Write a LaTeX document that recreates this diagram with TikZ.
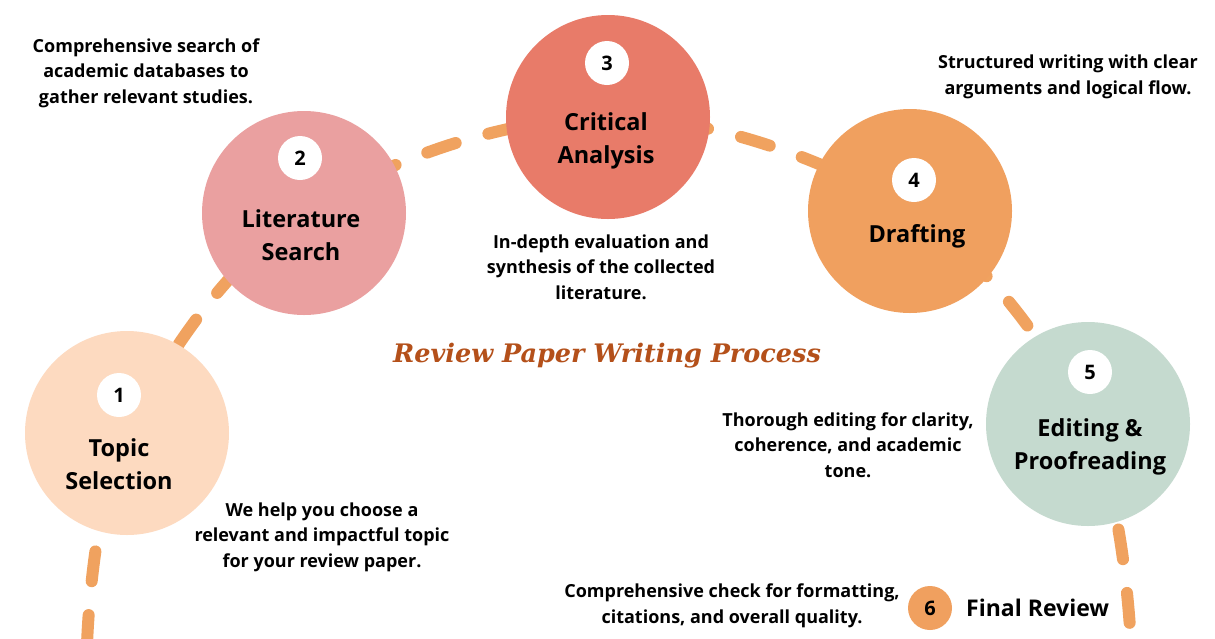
\documentclass[tikz,border=0pt]{standalone}
\usepackage{fontspec}
\setmainfont{Open Sans}
\newfontfamily\titlefont{DejaVu Serif}
\definecolor{cA}{RGB}{253,218,192}
\definecolor{cB}{RGB}{234,160,160}
\definecolor{cC}{RGB}{232,123,105}
\definecolor{cD}{RGB}{240,160,95}
\definecolor{cE}{RGB}{197,218,207}
\definecolor{dashcol}{RGB}{240,162,95}
\definecolor{titlecol}{RGB}{180,80,26}
\tikzset{
  stage/.style={circle, inner sep=0pt, minimum size=204pt},
  numbadge/.style={circle, fill=white, inner sep=0pt, minimum size=44pt, font=\fontsize{20}{20}\selectfont\bfseries},
  stagelabel/.style={align=center, inner sep=0pt, font=\fontsize{23.5}{33}\selectfont\bfseries},
  desc/.style={align=center, inner sep=0pt, font=\fontsize{18}{25.5}\selectfont\bfseries},
  dashpath/.style={draw=dashcol, line width=12pt, line cap=round, dash pattern=on 30pt off 34pt}
}
\begin{document}
\begin{tikzpicture}[x=1pt,y=-1pt]
\useasboundingbox (0,0) rectangle (1215,638);
\fill[white] (0,0) rectangle (1215,638);
% path anchors
\coordinate (pstart) at (87,645);
\coordinate (pend) at (1131,645);
\coordinate (p1) at (127,433);
\coordinate (p2) at (304,213);
\coordinate (p3) at (608,117);
\coordinate (p4) at (910,211);
\coordinate (p5) at (1088,424);
\draw[dashpath] plot[smooth, tension=0.6] coordinates {(pstart) (p1) (p2) (p3) (p4) (p5) (pend)};
% stages
\node[stage, fill=cA] (c1) at (p1) {};
\node[stage, fill=cB] (c2) at (p2) {};
\node[stage, fill=cC] (c3) at (p3) {};
\node[stage, fill=cD] (c4) at (p4) {};
\node[stage, fill=cE] (c5) at (p5) {};
% numbers
\node[numbadge] (n1) at (119,395) {1};
\node[numbadge] (n2) at (300,158) {2};
\node[numbadge] (n3) at (607,63) {3};
\node[numbadge] (n4) at (914,180) {4};
\node[numbadge] (n5) at (1090,372) {5};
\node[numbadge, fill=cD] (n6) at (930,608) {6};
% labels
\node[stagelabel] (l1) at (119,464) {Topic\\Selection};
\node[stagelabel] (l2) at (301,235) {Literature\\Search};
\node[stagelabel] (l3) at (606,141) {Critical\\Analysis};
\node[stagelabel] (l4) at (917,236) {Drafting};
\node[stagelabel] (l5) at (1090,447) {Editing \&\\Proofreading};
\node[anchor=west, inner sep=0pt, font=\fontsize{23}{23}\selectfont\bfseries] (l6) at (966,608) {Final Review};
% descriptions
\node[desc] (d1) at (322,537) {We help you choose a\\relevant and impactful topic\\for your review paper.};
\node[desc] (d2) at (146,73) {Comprehensive search of\\academic databases to\\gather relevant studies.};
\node[desc] (d3) at (601,267) {In-depth evaluation and\\synthesis of the collected\\literature.};
\node[desc] (d4) at (1068,77) {Structured writing with clear\\arguments and logical flow.};
\node[desc] (d5) at (848,445) {Thorough editing for clarity,\\coherence, and academic\\tone.};
\node[desc] (d6) at (732,606) {Comprehensive check for formatting,\\citations, and overall quality.};
% title
\node[inner sep=0pt, text=titlecol, font=\titlefont\fontsize{25.5}{25.5}\selectfont\bfseries\itshape] (title) at (607,356) {Review Paper Writing Process};
\end{tikzpicture}
\end{document}
